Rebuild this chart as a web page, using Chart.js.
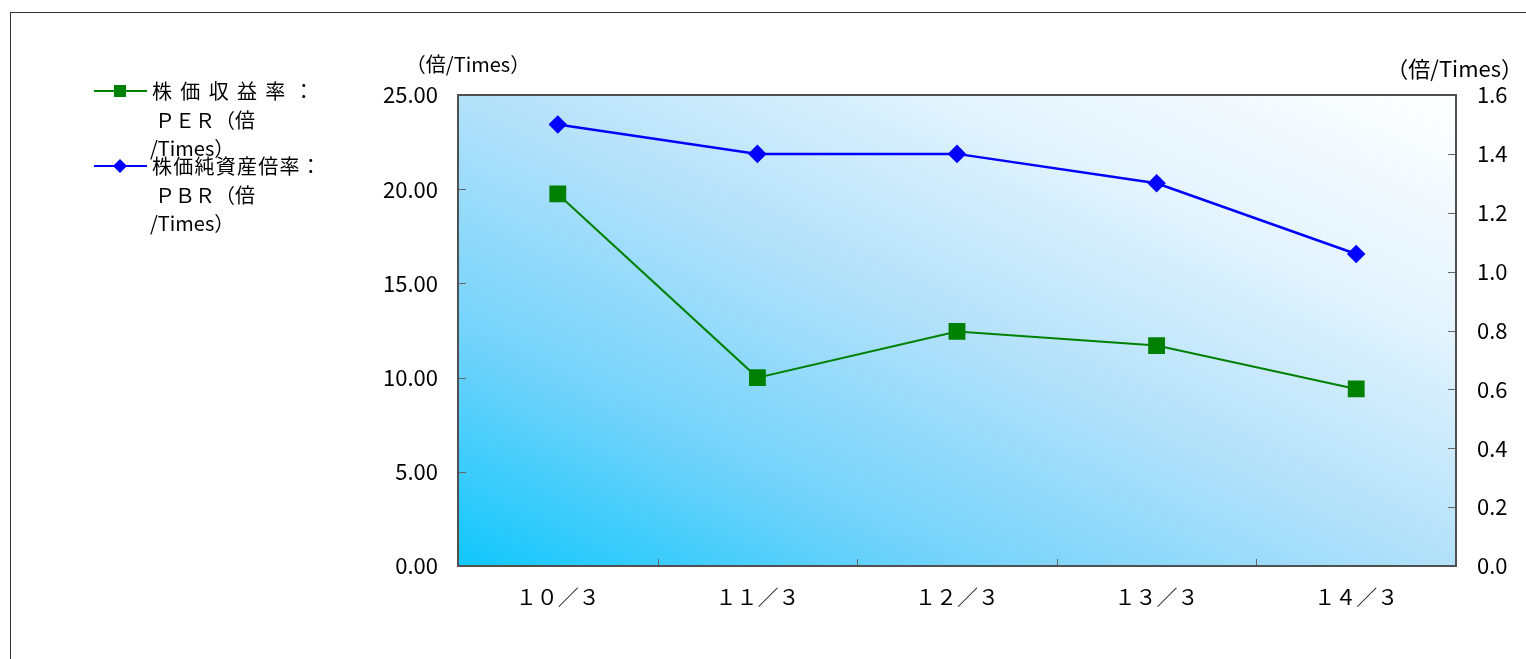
<!DOCTYPE html>
<html>
<head>
<meta charset="utf-8">
<script src="https://cdn.jsdelivr.net/npm/chart.js@4.4.1/dist/chart.umd.min.js"></script>
<style>
  body { margin: 0; background: #fff; }
  canvas { display: block; }
</style>
</head>
<body>
<canvas id="chart" width="1526" height="659"></canvas>
<script>
const categories = ["１０／３", "１１／３", "１２／３", "１３／３", "１４／３"];
const perValues = [19.75, 10.0, 12.45, 11.7, 9.4];
const pbrValues = [1.5, 1.4, 1.4, 1.3, 1.06];
const perLegend = ["株 価 収 益 率 ：", "ＰＥＲ（倍", "/Times）"];
const pbrLegend = ["株価純資産倍率：", "ＰＢＲ（倍", "/Times）"];
const axisUnit = "（倍/Times）";

const FONT = '"Noto Sans CJK JP", "Noto Sans", sans-serif';
Chart.defaults.font.family = FONT;
Chart.defaults.color = "#000";

// spread characters evenly over a given width
function spreadText(ctx, text, x, y, width) {
  const chars = Array.from(text.replace(/ /g, ""));
  const step = width / chars.length;
  chars.forEach((c, i) => ctx.fillText(c, x + i * step, y));
}

const decor = {
  id: "decor",
  beforeDraw(chart) {
    const ctx = chart.ctx;
    ctx.save();
    ctx.fillStyle = "#fff";
    ctx.fillRect(0, 0, chart.width, chart.height);
    ctx.strokeStyle = "#333";
    ctx.lineWidth = 1;
    ctx.strokeRect(10.5, 12.5, 1700, 800);
    ctx.restore();
  },
  beforeDatasetsDraw(chart) {
    const { ctx, chartArea: a, scales } = chart;
    const w = a.right - a.left, h = a.bottom - a.top;
    const k = (2 * w * h) / (w * w + h * h);
    const g = ctx.createLinearGradient(a.left, a.bottom, a.left + h * k, a.bottom - w * k);
    g.addColorStop(0, "#10c7fb");
    g.addColorStop(0.25, "#74d3fa");
    g.addColorStop(0.5, "#b3e1fa");
    g.addColorStop(0.75, "#e4f4fd");
    g.addColorStop(1, "#ffffff");
    ctx.save();
    ctx.fillStyle = g;
    ctx.fillRect(a.left, a.top, w, h);

    // inner ticks
    ctx.strokeStyle = "#666";
    ctx.lineWidth = 1;
    ctx.beginPath();
    const x = scales.x;
    for (let i = 0; i < categories.length - 1; i++) {
      const px = Math.round((x.getPixelForTick(i) + x.getPixelForTick(i + 1)) / 2) + 0.5;
      ctx.moveTo(px, a.bottom);
      ctx.lineTo(px, a.bottom - 7);
    }
    scales.y.ticks.forEach(t => {
      const py = Math.round(scales.y.getPixelForValue(t.value)) + 0.5;
      ctx.moveTo(a.left, py);
      ctx.lineTo(a.left + 8, py);
    });
    scales.y1.ticks.forEach(t => {
      const py = Math.round(scales.y1.getPixelForValue(t.value)) + 0.5;
      ctx.moveTo(a.right, py);
      ctx.lineTo(a.right - 8, py);
    });
    ctx.stroke();

    ctx.strokeStyle = "#505050";
    ctx.lineWidth = 2;
    ctx.strokeRect(a.left, a.top, w, h);
    ctx.restore();
  },
  afterDraw(chart) {
    const ctx = chart.ctx;
    ctx.save();
    ctx.fillStyle = "#000";
    ctx.textBaseline = "middle";

    // axis unit labels
    ctx.font = "20px " + FONT;
    ctx.textAlign = "center";
    ctx.fillText(axisUnit, 468, 64);
    ctx.font = "22px " + FONT;
    ctx.textAlign = "right";
    ctx.fillText(axisUnit, 1523, 69);

    // legend
    const entries = [
      { ds: chart.data.datasets[0], lines: perLegend, y: 91, spread: 170 },
      { ds: chart.data.datasets[1], lines: pbrLegend, y: 166, spread: 170 }
    ];
    entries.forEach(e => {
      ctx.strokeStyle = e.ds.borderColor;
      ctx.lineWidth = 2;
      ctx.beginPath();
      ctx.moveTo(94, e.y);
      ctx.lineTo(147, e.y);
      ctx.stroke();
      ctx.fillStyle = e.ds.backgroundColor;
      if (e.ds.pointStyle === "rect") {
        ctx.fillRect(114, e.y - 6, 12, 12);
      } else {
        ctx.beginPath();
        ctx.moveTo(120, e.y - 7);
        ctx.lineTo(127, e.y);
        ctx.lineTo(120, e.y + 7);
        ctx.lineTo(113, e.y);
        ctx.closePath();
        ctx.fill();
      }
      ctx.fillStyle = "#000";
      ctx.font = "20px " + FONT;
      ctx.textAlign = "left";
      spreadText(ctx, e.lines[0], 152, e.y, e.spread);
      ctx.fillText(e.lines[1], 155, e.y + 29);
      ctx.fillText(e.lines[2], 150, e.y + 57);
    });
    ctx.restore();
  }
};

new Chart(document.getElementById("chart"), {
  type: "line",
  data: {
    labels: categories,
    datasets: [
      {
        label: "株価収益率：PER（倍/Times）",
        data: perValues,
        yAxisID: "y",
        borderColor: "#008000",
        backgroundColor: "#008000",
        borderWidth: 2,
        pointStyle: "rect",
        pointRadius: 10.5,
        pointHoverRadius: 10.5,
        tension: 0
      },
      {
        label: "株価純資産倍率：PBR（倍/Times）",
        data: pbrValues,
        yAxisID: "y1",
        borderColor: "#0000ff",
        backgroundColor: "#0000ff",
        borderWidth: 2.5,
        pointStyle: "rectRot",
        pointRadius: 7.5,
        pointHoverRadius: 7.5,
        tension: 0
      }
    ]
  },
  options: {
    responsive: false,
    animation: false,
    events: [],
    layout: { padding: { top: 95, left: 0, right: 0, bottom: 0 } },
    plugins: { legend: { display: false }, title: { display: false }, tooltip: { enabled: false } },
    scales: {
      x: {
        offset: true,
        grid: { display: false, drawTicks: false },
        border: { display: false },
        ticks: { font: { size: 21 }, padding: 18, maxRotation: 0 },
        afterFit(s) { s.height = 93; }
      },
      y: {
        position: "left",
        min: 0,
        max: 25,
        grid: { display: false, drawTicks: false },
        border: { display: false },
        ticks: { stepSize: 5, font: { size: 22 }, padding: 20, callback: v => Number(v).toFixed(2) },
        afterFit(s) { s.width = 458; }
      },
      y1: {
        position: "right",
        min: 0,
        max: 1.6,
        grid: { display: false, drawTicks: false },
        border: { display: false },
        ticks: { stepSize: 0.2, font: { size: 22 }, padding: 21, callback: v => Number(v).toFixed(1) },
        afterFit(s) { s.width = 70; }
      }
    }
  },
  plugins: [decor]
});
</script>
</body>
</html>
